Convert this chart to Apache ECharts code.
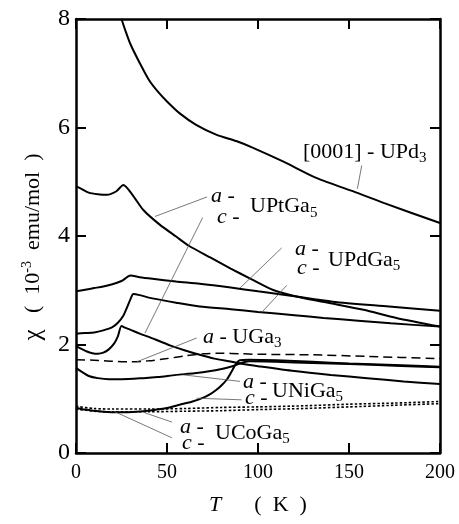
<!DOCTYPE html>
<html>
<head>
<meta charset="utf-8">
<script src="https://cdn.jsdelivr.net/npm/echarts@6/dist/echarts.min.js"></script>
<style>
html, body {margin:0; padding:0; background:#fff;}
#chart {width:459px; height:524px;}
</style>
</head>
<body>
<div id="chart"></div>
<script>
// 刻度
var xTicks = [0, 50, 100, 150, 200];
var yTicks = [0, 2, 4, 6, 8];

// [0001] - UPd3
var tUPd3   = [25, 27, 30, 35, 40, 45, 50, 57, 66, 77, 88, 97, 114, 132, 155, 169, 200];
var chiUPd3 = [8.0, 7.8, 7.53, 7.19, 6.88, 6.66, 6.48, 6.26, 6.05, 5.87, 5.75, 5.63, 5.37, 5.07, 4.79, 4.61, 4.24];

// UPtGa5 a / c
var tUPtA   = [0, 3, 7, 12, 17, 22, 26, 31, 37, 46, 55, 62, 74, 85, 96, 108, 123, 140, 158, 176, 200];
var chiUPtA = [4.92, 4.87, 4.80, 4.77, 4.76, 4.82, 4.94, 4.76, 4.48, 4.21, 3.99, 3.82, 3.60, 3.40, 3.21, 3.01, 2.87, 2.76, 2.64, 2.49, 2.33];
var tUPtC   = [0, 3, 6, 9, 12, 15, 18, 21, 23, 25, 27, 30, 35, 40, 46, 52, 60, 68, 76, 84, 92, 100, 120, 140, 160, 180, 200];
var chiUPtC = [1.97, 1.92, 1.87, 1.84, 1.83, 1.85, 1.91, 2.02, 2.15, 2.34, 2.31, 2.27, 2.20, 2.14, 2.06, 1.98, 1.89, 1.81, 1.74, 1.69, 1.64, 1.60, 1.51, 1.44, 1.38, 1.32, 1.27];

// UPdGa5 a / c
var tUPdA   = [0, 5, 10, 15, 20, 25, 30, 35, 42, 55, 68, 85, 100, 118, 141, 172, 200];
var chiUPdA = [2.98, 3.01, 3.04, 3.07, 3.11, 3.17, 3.27, 3.24, 3.21, 3.16, 3.12, 3.05, 2.98, 2.90, 2.79, 2.70, 2.62];
var tUPdC   = [0, 5, 10, 15, 20, 23, 26, 28, 30, 31.5, 35, 42, 55, 68, 85, 100, 120, 136, 155, 173, 200];
var chiUPdC = [2.20, 2.21, 2.22, 2.26, 2.32, 2.40, 2.53, 2.68, 2.84, 2.93, 2.91, 2.85, 2.77, 2.70, 2.65, 2.60, 2.54, 2.49, 2.44, 2.39, 2.33];

// UGa3 a
var tUGa3   = [0, 10, 20, 30, 40, 50, 60, 70, 80, 90, 100, 130, 160, 200];
var chiUGa3 = [1.72, 1.71, 1.69, 1.68, 1.70, 1.74, 1.79, 1.83, 1.84, 1.83, 1.82, 1.81, 1.78, 1.74];

// UNiGa5 a / c
var tUNiA   = [0, 3, 7, 12, 18, 25, 37, 45, 55, 65, 74, 80, 86, 90, 95, 110, 130, 150, 175, 200];
var chiUNiA = [1.57, 1.50, 1.42, 1.38, 1.36, 1.36, 1.38, 1.40, 1.44, 1.47, 1.51, 1.55, 1.60, 1.65, 1.69, 1.68, 1.66, 1.64, 1.61, 1.58];
var tUNiC   = [0, 5, 10, 15, 24, 33, 42, 50, 57, 64, 70, 74, 77, 80, 83, 86, 88, 90, 95, 110, 130, 150, 175, 200];
var chiUNiC = [0.83, 0.80, 0.78, 0.76, 0.75, 0.76, 0.79, 0.83, 0.89, 0.95, 1.02, 1.09, 1.16, 1.25, 1.36, 1.53, 1.65, 1.71, 1.72, 1.71, 1.68, 1.65, 1.62, 1.59];

// UCoGa5 a / c
var tUCo    = [0, 10, 20, 40, 60, 80, 100, 125, 150, 175, 200];
var chiUCoA = [0.86, 0.82, 0.81, 0.81, 0.82, 0.84, 0.85, 0.87, 0.90, 0.92, 0.95];
var chiUCoC = [0.81, 0.77, 0.76, 0.76, 0.77, 0.78, 0.80, 0.82, 0.85, 0.88, 0.91];

var serif = '"Liberation Serif", "DejaVu Serif", serif';

function pairs(xs, ys) {
	var d = [];
	for (var i = 0; i < xs.length; i++) {
		d.push([xs[i], ys[i]]);
	}
	return d;
}

function curve(name, xs, ys, type, width) {
	return {
		name: name,
		type: 'line',
		data: pairs(xs, ys),
		showSymbol: false,
		smooth: 0.25,
		lineStyle: {color: '#000', width: width, type: type},
		silent: true
	};
}

var richText = {
	i: {fontStyle: 'italic', fontSize: 22, fontFamily: serif, lineHeight: 22},
	chi: {fontSize: 25, fontFamily: serif, lineHeight: 25},
	sub: {fontSize: 15, fontFamily: serif, lineHeight: 15, padding: [12, 0, 0, 0]},
	sup: {fontSize: 14, fontFamily: serif, lineHeight: 14, padding: [0, 0, 12, 0]}
};

// 标注文字（数据坐标，左端、垂直居中）
var labels = [
	['[0001] - UPd{sub|3}', 124.7, 5.55],
	['{i|a} -', 74.2, 4.74],
	['{i|c} -', 77.5, 4.35],
	['UPtGa{sub|5}', 95.6, 4.54],
	['{i|a} -', 120.3, 3.76],
	['{i|c} -', 121.4, 3.41],
	['UPdGa{sub|5}', 138.5, 3.56],
	['{i|a} - UGa{sub|3}', 69.8, 2.14],
	['{i|a} -', 91.8, 1.31],
	['{i|c} -', 92.9, 1.01],
	['UNiGa{sub|5}', 107.7, 1.14],
	['{i|a} -', 57.1, 0.48],
	['{i|c} -', 58.2, 0.18],
	['UCoGa{sub|5}', 76.4, 0.37]
];

// 引线 [x1, y1, x2, y2]
var leaders = [
	[157, 5.30, 154.6, 4.87],
	[72, 4.72, 43.4, 4.36],
	[69.6, 4.34, 37.9, 2.21],
	[113, 3.78, 90.1, 3.04],
	[115.8, 3.09, 102, 2.59],
	[66.3, 2.12, 33.4, 1.68],
	[90.1, 1.32, 59, 1.44],
	[91, 0.98, 66.3, 1.01],
	[52.7, 0.57, 37.9, 0.74],
	[52.7, 0.28, 21.4, 0.76]
];

function makeAxis(ticks, pos, showLabel, fontSize) {
	return {
		type: 'value',
		position: pos,
		min: ticks[0],
		max: ticks[ticks.length - 1],
		interval: ticks[1] - ticks[0],
		axisLine: {show: true, onZero: false, lineStyle: {color: '#000', width: 2.5}},
		axisTick: {show: true, inside: true, length: 10, lineStyle: {color: '#000', width: 2}},
		axisLabel: {show: showLabel, color: '#000', fontFamily: serif, fontSize: fontSize, margin: pos == 'left' ? 6 : 10},
		splitLine: {show: false}
	};
}

var xBottom = makeAxis(xTicks, 'bottom', true, 20);
xBottom.name = '{i|T}      (  K  )';
xBottom.nameLocation = 'middle';
xBottom.nameGap = 41;
xBottom.nameTextStyle = {color: '#000', fontFamily: serif, fontSize: 22, rich: richText};

var yLeft = makeAxis(yTicks, 'left', true, 24);
yLeft.name = '{chi|\u03c7}   (  10{sup|-3}  emu/mol  )';
yLeft.nameLocation = 'middle';
yLeft.nameGap = 30;
yLeft.nameTextStyle = {color: '#000', fontFamily: serif, fontSize: 22, rich: richText, padding: [0, 22, 0, 0]};

var option = {
	animation: false,
	backgroundColor: '#fff',
	grid: {left: 76, right: 19, top: 19, bottom: 71, containLabel: false},
	xAxis: [xBottom, makeAxis(xTicks, 'top', false, 20)],
	yAxis: [yLeft, makeAxis(yTicks, 'right', false, 24)],
	series: [
		curve('[0001] - UPd3', tUPd3, chiUPd3, 'solid', 2),
		curve('UPtGa5 a', tUPtA, chiUPtA, 'solid', 2),
		curve('UPtGa5 c', tUPtC, chiUPtC, 'solid', 2),
		curve('UPdGa5 a', tUPdA, chiUPdA, 'solid', 2),
		curve('UPdGa5 c', tUPdC, chiUPdC, 'solid', 2),
		curve('UGa3 a', tUGa3, chiUGa3, [9, 5], 1.5),
		curve('UNiGa5 a', tUNiA, chiUNiA, 'solid', 2),
		curve('UNiGa5 c', tUNiC, chiUNiC, 'solid', 2),
		curve('UCoGa5 a', tUCo, chiUCoA, [2.5, 2], 1.6),
		curve('UCoGa5 c', tUCo, chiUCoC, [2.5, 2], 1.6)
	]
};

var myChart = echarts.init(document.getElementById('chart'));
myChart.setOption(option);

// 标注与引线
var g = [];
for (var i = 0; i < leaders.length; i++) {
	var p1 = myChart.convertToPixel({gridIndex: 0}, [leaders[i][0], leaders[i][1]]);
	var p2 = myChart.convertToPixel({gridIndex: 0}, [leaders[i][2], leaders[i][3]]);
	g.push({type: 'line', silent: true, z: 5,
		shape: {x1: p1[0], y1: p1[1], x2: p2[0], y2: p2[1]},
		style: {stroke: '#555', lineWidth: 0.8}});
}
for (var j = 0; j < labels.length; j++) {
	var p = myChart.convertToPixel({gridIndex: 0}, [labels[j][1], labels[j][2]]);
	g.push({type: 'text', silent: true, z: 10, x: p[0], y: p[1],
		style: {text: labels[j][0], fill: '#000', fontFamily: serif, fontSize: 22,
			align: 'left', verticalAlign: 'middle', rich: richText}});
}
myChart.setOption({graphic: g});
</script>
</body>
</html>
